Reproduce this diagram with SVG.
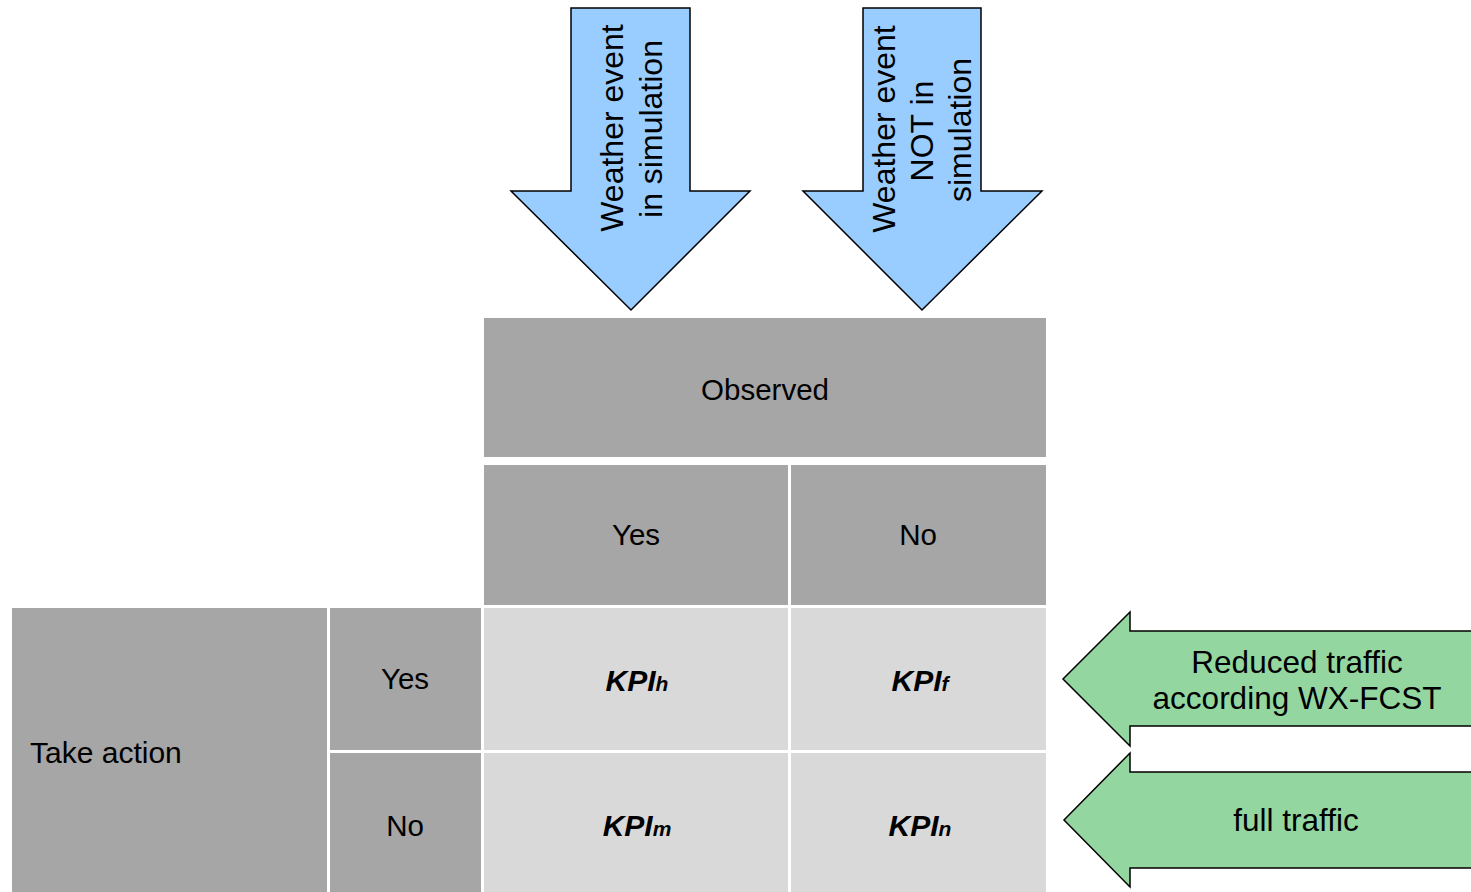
<svg xmlns="http://www.w3.org/2000/svg" width="1471" height="892" viewBox="0 0 1471 892">
<style>
.hdr{fill:#A6A6A6}
.cell{fill:#D9D9D9}
.blue{fill:#99CCFF;stroke:#000;stroke-width:1.5;stroke-linejoin:miter}
.green{fill:#94D6A0;stroke:#000;stroke-width:1.5;stroke-linejoin:miter}
text{font-family:"Liberation Sans",Arial,sans-serif;fill:#000}
.t{font-size:29.5px;text-anchor:middle}
.b{font-size:32px;text-anchor:middle}
.g{font-size:31.5px;text-anchor:middle}
.k{font-size:30px;font-weight:bold;font-style:italic;text-anchor:middle}
.k tspan{font-size:21px}
</style>
<rect width="1471" height="892" fill="#fff"/>
<g id="arrows">
<g id="arrow-in-sim">
<polygon class="blue" points="571,8 690,8 690,191 750,191 631,310 511,191 571,191"/>
<text class="b" transform="translate(623,128) rotate(-90)">Weather event</text>
<text class="b" transform="translate(662,129) rotate(-90)">in simulation</text>
</g>
<g id="arrow-not-in-sim">
<polygon class="blue" points="863,8 981,8 981,191 1042,191 922,310 803,191 863,191"/>
<text class="b" transform="translate(895,129) rotate(-90)">Weather event</text>
<text class="b" transform="translate(933,131) rotate(-90)">NOT in</text>
<text class="b" transform="translate(971,130) rotate(-90)">simulation</text>
</g>
<g id="arrow-reduced">
<polygon class="green" points="1480,631 1130,631 1130,612 1063,679 1130,746 1130,726 1480,726"/>
<text class="g" x="1297" y="673">Reduced traffic</text>
<text class="g" x="1297" y="709">according WX-FCST</text>
</g>
<g id="arrow-full">
<polygon class="green" points="1480,772 1130,772 1130,753 1064,820 1130,887 1130,868 1480,868"/>
<text class="g" x="1296" y="831">full traffic</text>
</g>
</g>
<g id="observed"><rect class="hdr" x="484" y="318" width="562" height="139"/><text class="t" x="765" y="400">Observed</text></g>
<g id="obs-yes"><rect class="hdr" x="484" y="465" width="304" height="140"/><text class="t" x="636" y="545">Yes</text></g>
<g id="obs-no"><rect class="hdr" x="791" y="465" width="255" height="140"/><text class="t" x="918" y="545">No</text></g>
<g id="take-action"><rect class="hdr" x="12" y="608" width="315" height="284"/><text x="30" y="763" style="font-size:30px">Take action</text></g>
<g id="act-yes"><rect class="hdr" x="330" y="608" width="151" height="142"/><text class="t" x="405" y="689">Yes</text></g>
<g id="act-no"><rect class="hdr" x="330" y="753" width="151" height="139"/><text class="t" x="405" y="836">No</text></g>
<g id="kpi-h"><rect class="cell" x="484" y="608" width="304" height="142"/><text class="k" x="637" y="691">KPI<tspan>h</tspan></text></g>
<g id="kpi-f"><rect class="cell" x="791" y="608" width="255" height="142"/><text class="k" x="920" y="691">KPI<tspan>f</tspan></text></g>
<g id="kpi-m"><rect class="cell" x="484" y="753" width="304" height="139"/><text class="k" x="637" y="836">KPI<tspan>m</tspan></text></g>
<g id="kpi-n"><rect class="cell" x="791" y="753" width="255" height="139"/><text class="k" x="920" y="836">KPI<tspan>n</tspan></text></g>
</svg>
